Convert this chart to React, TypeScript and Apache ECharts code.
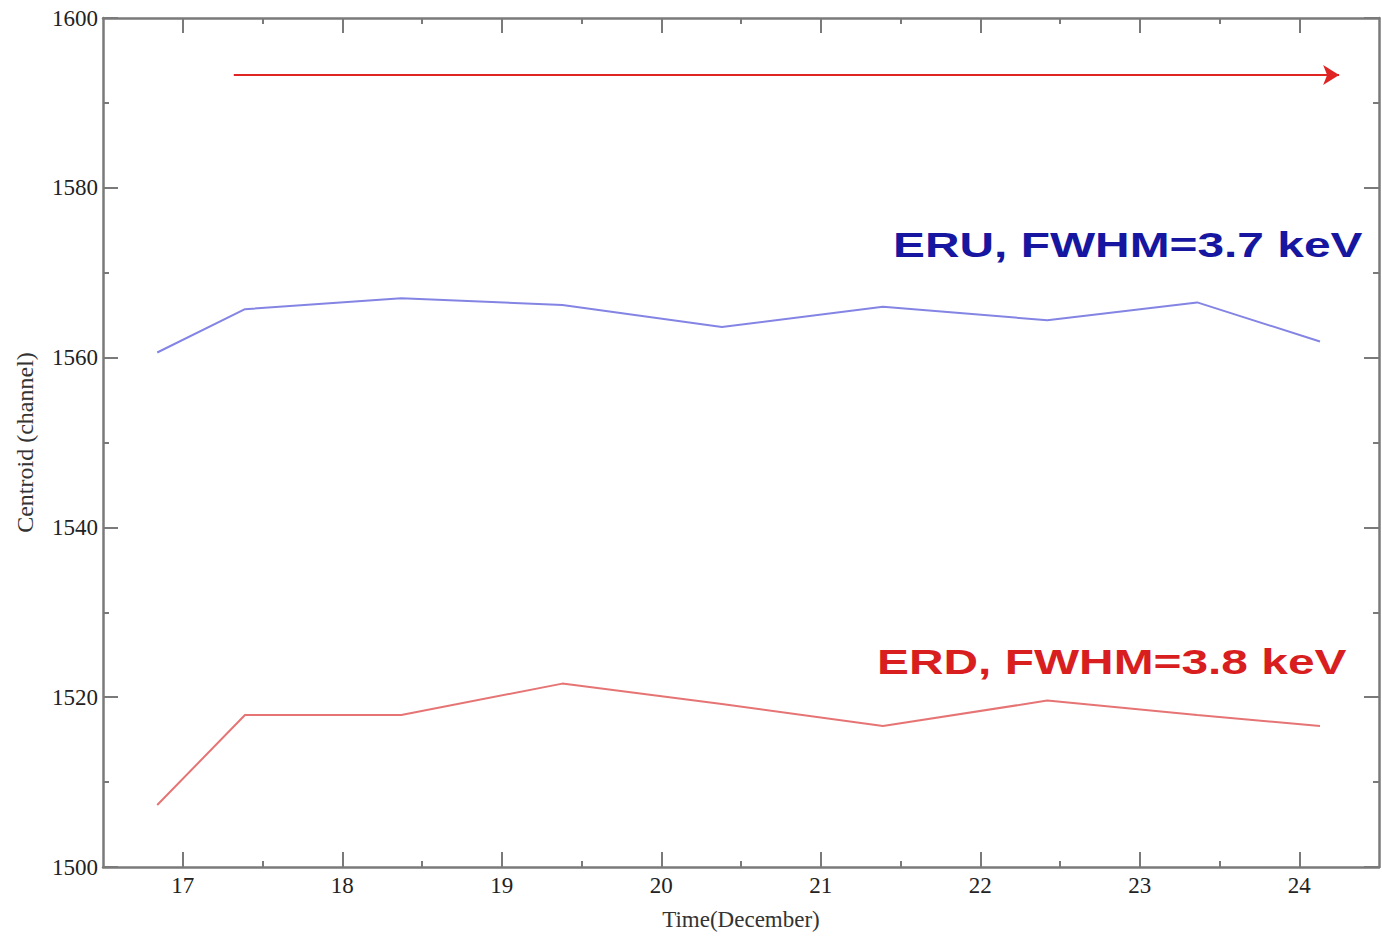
import React, { useEffect, useRef } from "react";
import * as echarts from "echarts";

// Measurement times (day of December) and peak centroid per detector
const days = [16.84, 17.39, 18.37, 19.38, 20.38, 21.39, 22.42, 23.36, 24.13];
const eruCentroid = [1560.6, 1565.7, 1567.0, 1566.2, 1563.6, 1566.0, 1564.4, 1566.5, 1561.9];
const erdCentroid = [1507.3, 1517.9, 1517.9, 1521.6, 1519.2, 1516.6, 1519.6, 1517.9, 1516.6];

// Axis ticks
const dayTicks = [17, 18, 19, 20, 21, 22, 23, 24];
const halfDayTicks = [17.5, 18.5, 19.5, 20.5, 21.5, 22.5, 23.5];

// Time-span arrow (start / end day, channel level)
const arrowSpan = [17.32, 24.25];
const arrowLevel = 1593.3;

const eruLabel = "ERU, FWHM=3.7 keV";
const erdLabel = "ERD, FWHM=3.8 keV";

const AXIS_COLOR = "#7a7a7a";
const SERIF = "'Liberation Serif', 'DejaVu Serif', serif";
const SANS = "'Liberation Sans', Arial, sans-serif";

export default function App() {
  const ref = useRef<HTMLDivElement>(null);

  useEffect(() => {
    if (!ref.current) return;
    const chart = echarts.init(ref.current, null, { renderer: "svg" });

    const xBase = {
      type: "value",
      min: 16.5,
      max: 24.5,
      splitLine: { show: false },
      axisLine: { show: true, lineStyle: { color: AXIS_COLOR, width: 2.5 } },
    };
    const yBase = {
      type: "value",
      min: 1500,
      max: 1600,
      interval: 20,
      splitLine: { show: false },
      axisLine: { show: true, lineStyle: { color: AXIS_COLOR, width: 2.5 } },
      axisTick: { inside: true, length: 15, lineStyle: { color: AXIS_COLOR, width: 2 } },
      minorTick: { show: true, splitNumber: 2, length: 6, lineStyle: { color: AXIS_COLOR, width: 2 } },
    };

    const majorTick = {
      inside: true,
      length: 15,
      customValues: dayTicks,
      lineStyle: { color: AXIS_COLOR, width: 2 },
    };
    const minorTick = {
      inside: true,
      length: 6,
      customValues: halfDayTicks,
      lineStyle: { color: AXIS_COLOR, width: 2 },
    };

    chart.setOption({
      animation: false,
      backgroundColor: "#ffffff",
      grid: { left: 103, top: 18, right: 3, bottom: 67, containLabel: false },
      xAxis: [
        {
          ...xBase,
          position: "bottom",
          axisTick: majorTick,
          axisLabel: {
            customValues: dayTicks,
            margin: 7,
            color: "#222",
            fontFamily: SERIF,
            fontSize: 23,
          },
          name: "Time(December)",
          nameLocation: "middle",
          nameGap: 41,
          nameTextStyle: { color: "#333", fontFamily: SERIF, fontSize: 23 },
        },
        {
          ...xBase,
          position: "bottom",
          axisLine: { show: false },
          axisTick: minorTick,
          axisLabel: { show: false },
        },
        {
          ...xBase,
          position: "top",
          axisTick: majorTick,
          axisLabel: { show: false },
        },
        {
          ...xBase,
          position: "top",
          axisLine: { show: false },
          axisTick: minorTick,
          axisLabel: { show: false },
        },
      ],
      yAxis: [
        {
          ...yBase,
          position: "left",
          axisLabel: {
            margin: 5,
            color: "#222",
            fontFamily: SERIF,
            fontSize: 23,
            formatter: (v: number) => String(v),
          },
          name: "Centroid (channel)",
          nameLocation: "middle",
          nameGap: 66,
          nameTextStyle: { color: "#333", fontFamily: SERIF, fontSize: 24 },
        },
        {
          ...yBase,
          position: "right",
          axisLabel: { show: false },
        },
      ],
      series: [
        {
          name: "ERU",
          type: "line",
          xAxisIndex: 0,
          yAxisIndex: 0,
          data: days.map((d, i) => [d, eruCentroid[i]]),
          showSymbol: false,
          lineStyle: { color: "#8484e4", width: 2 },
          itemStyle: { color: "#8484e4" },
        },
        {
          name: "ERD",
          type: "line",
          xAxisIndex: 0,
          yAxisIndex: 0,
          data: days.map((d, i) => [d, erdCentroid[i]]),
          showSymbol: false,
          lineStyle: { color: "#e67474", width: 2 },
          itemStyle: { color: "#e67474" },
        },
        {
          name: "span",
          type: "line",
          xAxisIndex: 0,
          yAxisIndex: 0,
          data: [],
          markLine: {
            silent: true,
            symbol: ["none", "arrow"],
            symbolSize: [15, 16],
            label: { show: false },
            lineStyle: { color: "#e02424", width: 2, type: "solid" },
            data: [
              [
                { coord: [arrowSpan[0], arrowLevel] },
                { coord: [arrowSpan[1], arrowLevel] },
              ],
            ],
          },
        },
      ],
      graphic: [
        {
          type: "text",
          x: 893,
          y: 245,
          scaleX: 1.33,
          style: {
            text: eruLabel,
            fill: "#1616a0",
            font: `bold 36px ${SANS}`,
            verticalAlign: "middle",
            align: "left",
          },
        },
        {
          type: "text",
          x: 877,
          y: 662,
          scaleX: 1.33,
          style: {
            text: erdLabel,
            fill: "#d81e1e",
            font: `bold 36px ${SANS}`,
            verticalAlign: "middle",
            align: "left",
          },
        },
      ],
    });

    return () => chart.dispose();
  }, []);

  return (
    <div
      ref={ref}
      style={{ position: "fixed", left: 0, top: 0, width: 1382, height: 936, background: "#fff" }}
    />
  );
}
